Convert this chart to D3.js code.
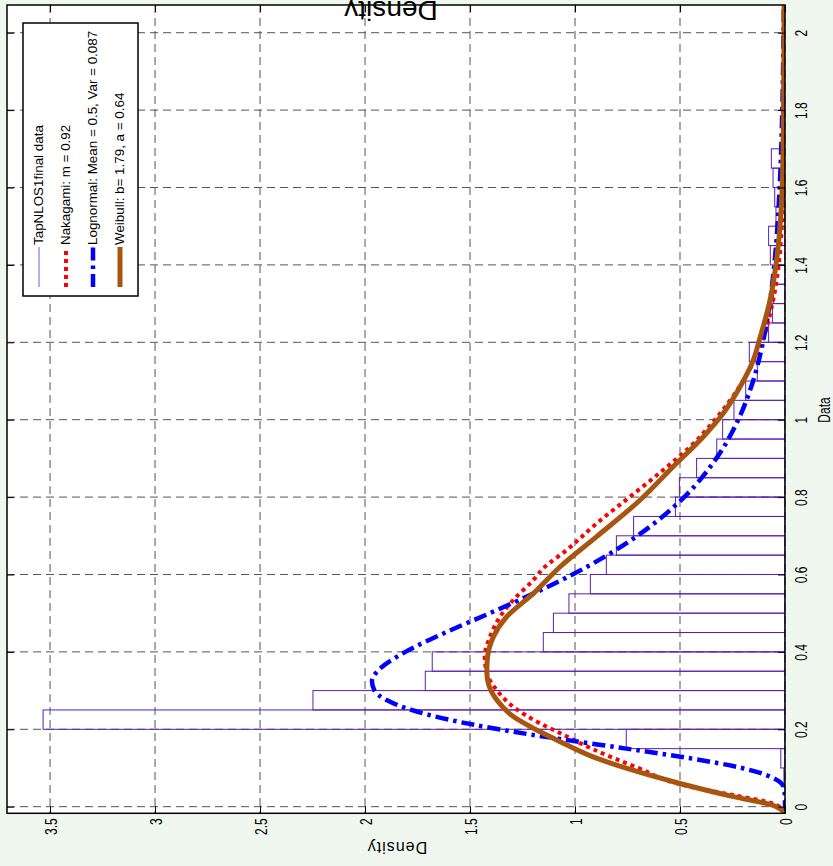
<!DOCTYPE html>
<html>
<head>
<meta charset="utf-8">
<script src="https://cdn.jsdelivr.net/npm/d3@7"></script>
<style>
  html, body { margin: 0; padding: 0; background: #eff7ee; }
  svg { display: block; }
</style>
</head>
<body>
<svg id="chart" width="833" height="866"></svg>
<script>
// ---- histogram of the measured data (bin lower edges, density per bin) ----
const binStart   = [0.00, 0.05, 0.10, 0.15, 0.20, 0.25, 0.30, 0.35, 0.40, 0.45,
                    0.50, 0.55, 0.60, 0.65, 0.70, 0.75, 0.80, 0.85, 0.90, 0.95,
                    1.00, 1.05, 1.10, 1.15, 1.20, 1.25, 1.30, 1.35, 1.40, 1.45,
                    1.50, 1.55, 1.60, 1.65];
const binDensity = [0.000, 0.005, 0.020, 0.756, 3.533, 2.248, 1.713, 1.680, 1.151, 1.103,
                    1.029, 0.927, 0.851, 0.803, 0.721, 0.522, 0.503, 0.421, 0.325, 0.297,
                    0.243, 0.187, 0.132, 0.170, 0.078, 0.060, 0.055, 0.045, 0.070, 0.078,
                    0.043, 0.049, 0.057, 0.065];
const binWidth = 0.05;

// ---- fitted densities ----
const nakagamiX = [-0.017, 0.004, 0.013, 0.030, 0.056, 0.100, 0.150, 0.190, 0.2155, 0.258,
                   0.3015, 0.345, 0.388, 0.439, 0.491, 0.534, 0.586, 0.616, 0.663, 0.732,
                   0.801, 0.870, 0.930, 0.995, 1.10, 1.20, 1.30, 1.40, 1.50, 1.60, 1.70, 1.80, 2.07];
const nakagamiY = [0, 0.04, 0.09, 0.246, 0.486, 0.70, 0.92, 1.071, 1.167, 1.294,
                   1.373, 1.42, 1.43, 1.405, 1.357, 1.294, 1.198, 1.151, 1.04, 0.897,
                   0.738, 0.58, 0.452, 0.341, 0.20, 0.11, 0.06, 0.03, 0.015, 0.007, 0.003, 0.001, 0];

const lognormalX = [-0.017, 0, 0.025, 0.05, 0.075, 0.10, 0.125, 0.15, 0.175, 0.20,
                    0.225, 0.25, 0.275, 0.30, 0.325, 0.35, 0.40, 0.45, 0.50, 0.55,
                    0.60, 0.65, 0.70, 0.80, 0.90, 1.00, 1.10, 1.20, 1.30, 1.40,
                    1.60, 1.80, 2.00, 2.07];
const lognormalY = [0, 0, 0.0002, 0.006, 0.059, 0.206, 0.451, 0.756, 1.073, 1.363,
                    1.602, 1.779, 1.895, 1.955, 1.967, 1.941, 1.808, 1.617, 1.406, 1.201,
                    1.012, 0.846, 0.703, 0.480, 0.327, 0.2225, 0.152, 0.105, 0.073, 0.051,
                    0.0255, 0.013, 0.007, 0.0055];

const weibullX = [-0.017, 0.004, 0.026, 0.060, 0.100, 0.130, 0.168, 0.198, 0.233, 0.276,
                  0.319, 0.350, 0.379, 0.439, 0.491, 0.551, 0.620, 0.698, 0.7925, 0.879,
                  0.956, 1.0165, 1.085, 1.154, 1.210, 1.309, 1.413, 1.567, 1.740, 2.07];
const weibullY = [0, 0.06, 0.246, 0.50, 0.76, 0.92, 1.071, 1.182, 1.294, 1.373,
                  1.413, 1.42, 1.418, 1.389, 1.325, 1.198, 1.071, 0.897, 0.69, 0.532,
                  0.389, 0.294, 0.214, 0.151, 0.12, 0.071, 0.04, 0.016, 0.008, 0.004];

// ---- axes ticks ----
const dataTicks        = [0, 0.2, 0.4, 0.6, 0.8, 1, 1.2, 1.4, 1.6, 1.8, 2];
const dataTickLabels   = ["0", "0.2", "0.4", "0.6", "0.8", "1", "1.2", "1.4", "1.6", "1.8", "2"];
const densityTicks     = [0, 0.5, 1, 1.5, 2, 2.5, 3, 3.5];
const densityTickLabels= ["0", "0.5", "1", "1.5", "2", "2.5", "3", "3.5"];

const legendLabels = ["TapNLOS1final data", "Nakagami: m = 0.92",
                      "Lognormal: Mean = 0.5, Var = 0.087", "Weibull: b= 1.79, a = 0.64"];

// ---------------------------------------------------------------------------
const svg = d3.select("#chart");
const W = 833, H = 866;
const FONT = "'Liberation Sans', Arial, Helvetica, sans-serif";

svg.append("rect").attr("width", W).attr("height", H).attr("fill", "#eff7ee");

const plot = { left: 7, right: 785, top: 5, bottom: 813.3 };

// Density runs right-to-left, data runs bottom-to-top (the figure is turned on its side)
const x = d3.scaleLinear().domain([0, 3.705]).range([plot.right, plot.left]);
const y = d3.scaleLinear().domain([-0.0171, 2.0716]).range([plot.bottom, plot.top]);

svg.append("rect")
  .attr("x", plot.left).attr("y", plot.top)
  .attr("width", plot.right - plot.left).attr("height", plot.bottom - plot.top)
  .attr("fill", "#ffffff");

svg.append("clipPath").attr("id", "plotClip")
  .append("rect")
  .attr("x", plot.left).attr("y", plot.top)
  .attr("width", plot.right - plot.left).attr("height", plot.bottom - plot.top);

// grid
const grid = svg.append("g").attr("stroke", "#555555").attr("stroke-width", 1)
  .attr("stroke-dasharray", "8,5");
grid.selectAll("line.h").data(dataTicks).join("line").attr("class", "h")
  .attr("x1", plot.left).attr("x2", plot.right)
  .attr("y1", d => y(d)).attr("y2", d => y(d));
grid.selectAll("line.v").data(densityTicks).join("line").attr("class", "v")
  .attr("y1", plot.top).attr("y2", plot.bottom)
  .attr("x1", d => x(d)).attr("x2", d => x(d));

// histogram
const bins = binStart.map((s, i) => ({ lo: s, hi: s + binWidth, v: binDensity[i] }))
  .filter(b => b.v > 0);
svg.append("g").attr("clip-path", "url(#plotClip)")
  .selectAll("rect").data(bins).join("rect")
  .attr("x", b => x(b.v))
  .attr("y", b => y(b.hi))
  .attr("width", b => x(0) - x(b.v))
  .attr("height", b => y(b.lo) - y(b.hi))
  .attr("fill", "none")
  .attr("stroke", "#5b1fb3")
  .attr("stroke-width", 1);

// fitted curves
const line = d3.line().x(p => x(p.v)).y(p => y(p.d)).curve(d3.curveMonotoneY);
const toPts = (ds, vs) => ds.map((d, i) => ({ d: d, v: vs[i] }));

const curves = svg.append("g").attr("clip-path", "url(#plotClip)").attr("fill", "none");
curves.append("path").datum(toPts(nakagamiX, nakagamiY))
  .attr("d", line).attr("stroke", "#ff0000").attr("stroke-width", 4)
  .attr("stroke-dasharray", "4,4");
curves.append("path").datum(toPts(lognormalX, lognormalY))
  .attr("d", line).attr("stroke", "#0000ff").attr("stroke-width", 4.5)
  .attr("stroke-dasharray", "13,5,3.5,5");
curves.append("path").datum(toPts(weibullX, weibullY))
  .attr("d", line).attr("stroke", "#a8560f").attr("stroke-width", 5)
  .attr("stroke-linejoin", "round");

// axes (ticks point inward on all four sides)
const tickLen = 7;
function styleAxis(g) {
  g.select(".domain").remove();
  g.selectAll(".tick line").attr("stroke", "#000").attr("stroke-width", 1);
  g.attr("font-family", FONT).attr("font-size", 12);
}

const axRight = svg.append("g").attr("transform", `translate(${plot.right},0)`)
  .call(d3.axisRight(y).tickValues(dataTicks).tickSize(-tickLen)
    .tickFormat((d, i) => dataTickLabels[i]));
styleAxis(axRight);
axRight.selectAll(".tick text")
  .attr("x", null).attr("y", null).attr("dy", null)
  .attr("fill", "#000")
  .attr("text-anchor", "middle")
  .attr("transform", "translate(22,0) rotate(-90) scale(1,1.4)");

const axLeft = svg.append("g").attr("transform", `translate(${plot.left},0)`)
  .call(d3.axisLeft(y).tickValues(dataTicks).tickSize(-tickLen).tickFormat(""));
styleAxis(axLeft);

const axBottom = svg.append("g").attr("transform", `translate(0,${plot.bottom})`)
  .call(d3.axisBottom(x).tickValues(densityTicks).tickSize(-tickLen)
    .tickFormat((d, i) => densityTickLabels[i]));
styleAxis(axBottom);
axBottom.selectAll(".tick text")
  .attr("x", null).attr("y", null).attr("dy", null)
  .attr("fill", "#000")
  .attr("text-anchor", "end")
  .attr("transform", "translate(6,5) rotate(-90) scale(1,1.4)");

const axTop = svg.append("g").attr("transform", `translate(0,${plot.top})`)
  .call(d3.axisTop(x).tickValues(densityTicks).tickSize(-tickLen).tickFormat(""));
styleAxis(axTop);

// box
svg.append("rect")
  .attr("x", plot.left).attr("y", plot.top)
  .attr("width", plot.right - plot.left).attr("height", plot.bottom - plot.top)
  .attr("fill", "none").attr("stroke", "#000").attr("stroke-width", 1.5);

// axis labels
svg.append("text")
  .attr("transform", "translate(830,410) rotate(-90) scale(1,1.4)")
  .attr("text-anchor", "middle")
  .attr("font-family", FONT).attr("font-size", 12)
  .text("Data");

svg.append("text")
  .attr("transform", "translate(397,842) rotate(180)")
  .attr("text-anchor", "middle")
  .attr("font-family", FONT).attr("font-size", 16)
  .attr("letter-spacing", 1)
  .text("Density");

// heading sits at the top edge, upside down, partly beyond the page
svg.append("text")
  .attr("transform", "translate(391,1) rotate(180)")
  .attr("text-anchor", "middle")
  .attr("font-family", FONT).attr("font-size", 28)
  .text("Density");

// legend
const legend = svg.append("g");
legend.append("rect")
  .attr("x", 23).attr("y", 23).attr("width", 115).attr("height", 273)
  .attr("fill", "#fff").attr("stroke", "#000").attr("stroke-width", 1.5);

const legendStyles = [
  { stroke: "#8a55d6", width: 1,   dash: null },
  { stroke: "#ff0000", width: 4,   dash: "4,4" },
  { stroke: "#0000ff", width: 4.5, dash: "13,5,3.5,5" },
  { stroke: "#a8560f", width: 5,   dash: null }
];
legendLabels.forEach((label, i) => {
  const bx = 42.5 + i * 27;
  const st = legendStyles[i];
  const ln = legend.append("line")
    .attr("x1", bx - 3.5).attr("x2", bx - 3.5)
    .attr("y1", 287).attr("y2", 247)
    .attr("stroke", st.stroke).attr("stroke-width", st.width);
  if (st.dash) ln.attr("stroke-dasharray", st.dash);
  legend.append("text")
    .attr("transform", `translate(${bx},245) rotate(-90)`)
    .attr("font-family", FONT).attr("font-size", 13.4)
    .text(label);
});
</script>
</body>
</html>
